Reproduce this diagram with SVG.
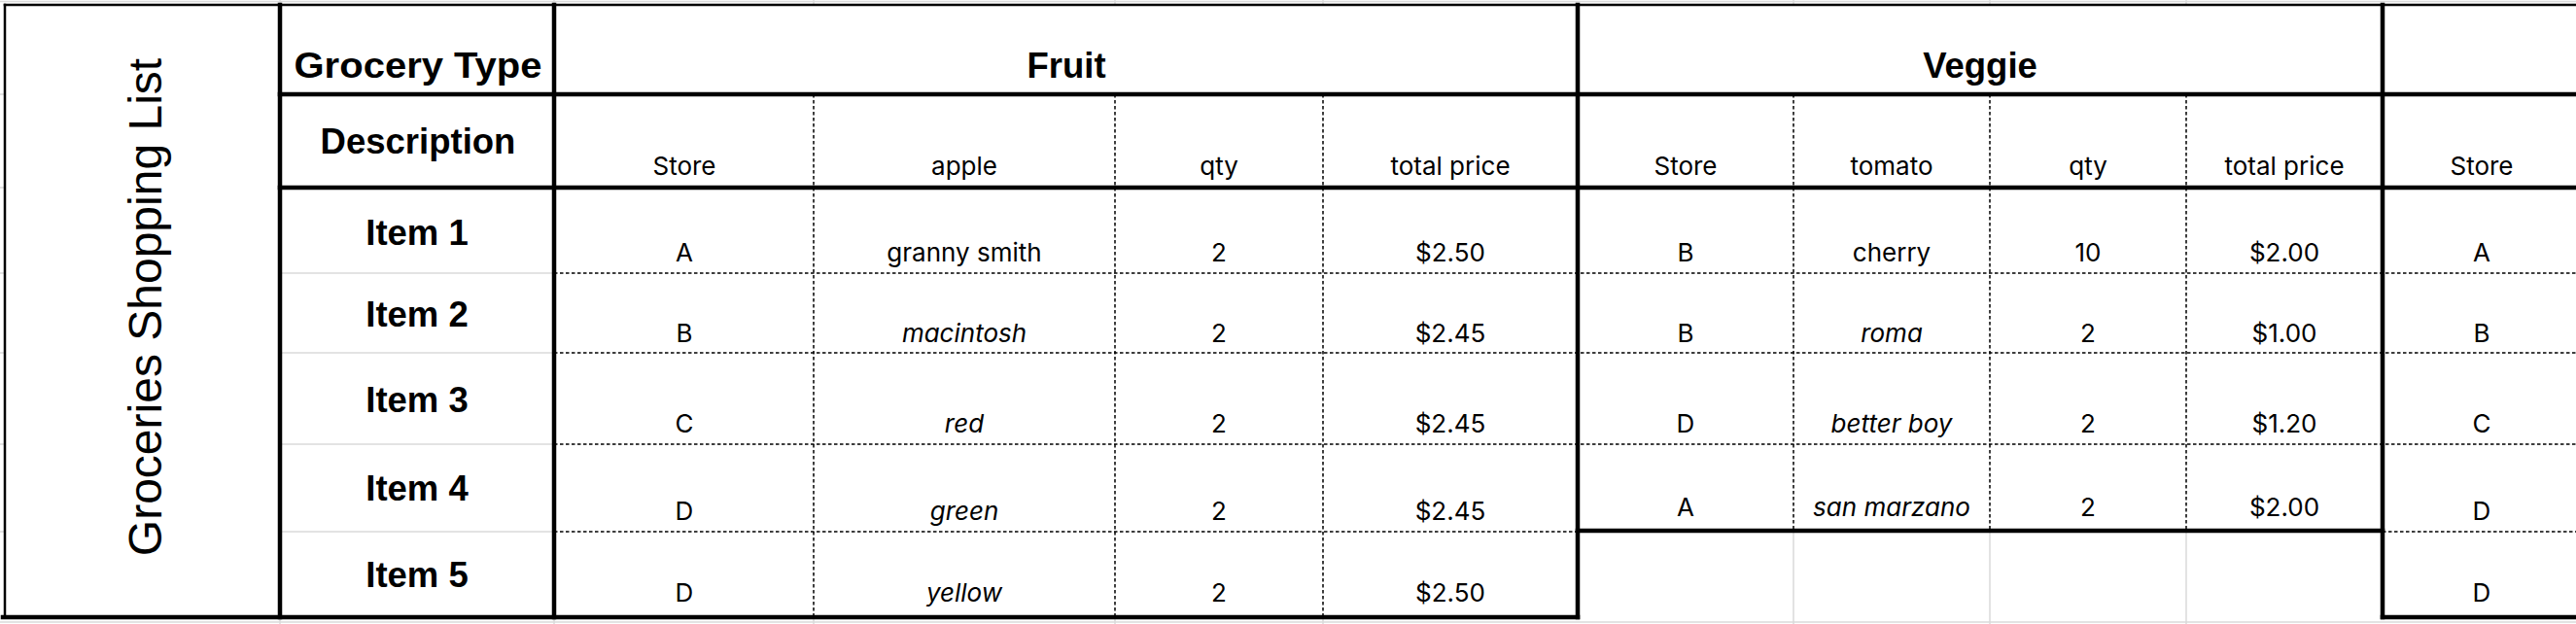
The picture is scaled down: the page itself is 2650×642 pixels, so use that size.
<svg xmlns="http://www.w3.org/2000/svg" width="2650" height="642" viewBox="0 0 2650 642">
<style>
.grid{stroke:#dadada;stroke-width:1.5;fill:none}
.thick{stroke:#000;stroke-width:4.5;fill:none;stroke-linecap:square}
.thin{stroke:#000;stroke-width:2.5;fill:none;stroke-linecap:square}
.dash{stroke:#000;stroke-width:1.5;stroke-dasharray:3.5 2.5;fill:none}
.hd{font-family:"Liberation Sans",Arial,sans-serif;font-weight:bold;font-size:36.5px;fill:#000;text-anchor:middle}
.title{font-family:"Liberation Sans",Arial,sans-serif;font-size:48px;fill:#000;text-anchor:middle}
.d{font-family:Inter,"Noto Sans",sans-serif;font-size:26px;fill:#000;text-anchor:middle}
.i{font-style:italic}
</style>
<rect x="0" y="0" width="2650" height="642" fill="#fff"/>
<g id="gridlines">
<line class="grid" x1="0" y1="1.5" x2="2650" y2="1.5"/>
<line class="grid" x1="0" y1="640" x2="2650" y2="640"/>
<line class="grid" x1="288" y1="0" x2="288" y2="5"/>
<line class="grid" x1="570" y1="0" x2="570" y2="5"/>
<line class="grid" x1="837" y1="0" x2="837" y2="5"/>
<line class="grid" x1="1147" y1="0" x2="1147" y2="5"/>
<line class="grid" x1="1361" y1="0" x2="1361" y2="5"/>
<line class="grid" x1="1845" y1="0" x2="1845" y2="5"/>
<line class="grid" x1="2047" y1="0" x2="2047" y2="5"/>
<line class="grid" x1="2249" y1="0" x2="2249" y2="5"/>
<line class="grid" x1="288" y1="635" x2="288" y2="642"/>
<line class="grid" x1="570" y1="635" x2="570" y2="642"/>
<line class="grid" x1="837" y1="635" x2="837" y2="642"/>
<line class="grid" x1="1147" y1="635" x2="1147" y2="642"/>
<line class="grid" x1="1361" y1="635" x2="1361" y2="642"/>
<line class="grid" x1="1845" y1="548" x2="1845" y2="642"/>
<line class="grid" x1="2047" y1="548" x2="2047" y2="642"/>
<line class="grid" x1="2249" y1="548" x2="2249" y2="642"/>
<line class="grid" x1="0" y1="97" x2="4" y2="97"/>
<line class="grid" x1="0" y1="193" x2="4" y2="193"/>
<line class="grid" x1="0" y1="281" x2="4" y2="281"/>
<line class="grid" x1="0" y1="363" x2="4" y2="363"/>
<line class="grid" x1="0" y1="457" x2="4" y2="457"/>
<line class="grid" x1="0" y1="547" x2="4" y2="547"/>
<line class="grid" x1="288" y1="281" x2="570" y2="281"/>
<line class="grid" x1="288" y1="363" x2="570" y2="363"/>
<line class="grid" x1="288" y1="457" x2="570" y2="457"/>
<line class="grid" x1="288" y1="547" x2="570" y2="547"/>
</g>
<g id="connectors">
<line class="dash" x1="837" y1="97" x2="837" y2="635"/>
<line class="dash" x1="1147" y1="97" x2="1147" y2="635"/>
<line class="dash" x1="1361" y1="97" x2="1361" y2="635"/>
<line class="dash" x1="1845" y1="97" x2="1845" y2="546"/>
<line class="dash" x1="2047" y1="97" x2="2047" y2="546"/>
<line class="dash" x1="2249" y1="97" x2="2249" y2="546"/>
<line class="dash" x1="570" y1="281" x2="2650" y2="281"/>
<line class="dash" x1="570" y1="363" x2="2650" y2="363"/>
<line class="dash" x1="570" y1="457" x2="2650" y2="457"/>
<line class="dash" x1="570" y1="547" x2="1623" y2="547"/>
<line class="dash" x1="2451" y1="547" x2="2650" y2="547"/>
<line class="thin" x1="5" y1="5" x2="2650" y2="5"/>
<line class="thin" x1="5" y1="5" x2="5" y2="635"/>
<line class="thick" x1="288" y1="5" x2="288" y2="635"/>
<line class="thick" x1="570" y1="5" x2="570" y2="635"/>
<line class="thick" x1="1623" y1="5" x2="1623" y2="635"/>
<line class="thick" x1="2451" y1="5" x2="2451" y2="635"/>
<line class="thick" x1="288" y1="97" x2="2650" y2="97"/>
<line class="thick" x1="288" y1="193" x2="2650" y2="193"/>
<line class="thick" x1="3" y1="635" x2="1623" y2="635"/>
<line class="thick" x1="2451" y1="635" x2="2650" y2="635"/>
<line class="thick" x1="1623" y1="546" x2="2451" y2="546"/>
</g>
<g id="title">
<text class="title" transform="translate(166,316) rotate(-90)">Groceries Shopping List</text>
</g>
<g id="row-labels">
<text class="hd" x="430" y="80" textLength="255" lengthAdjust="spacingAndGlyphs">Grocery Type</text>
<text class="hd" x="430" y="158">Description</text>
<text class="hd" x="429" y="252">Item 1</text>
<text class="hd" x="429" y="336">Item 2</text>
<text class="hd" x="429" y="424">Item 3</text>
<text class="hd" x="429" y="515">Item 4</text>
<text class="hd" x="429" y="604">Item 5</text>
</g>
<g id="fruit">
<text class="hd" x="1097" y="80">Fruit</text>
<text class="d" x="704" y="180">Store</text>
<text class="d" x="992" y="180">apple</text>
<text class="d" x="1254" y="180">qty</text>
<text class="d" x="1492" y="180">total price</text>
<text class="d" x="704" y="269">A</text>
<text class="d" x="992" y="269">granny smith</text>
<text class="d" x="1254" y="269">2</text>
<text class="d" x="1492" y="269">$2.50</text>
<text class="d" x="704" y="352">B</text>
<text class="d i" x="992" y="352">macintosh</text>
<text class="d" x="1254" y="352">2</text>
<text class="d" x="1492" y="352">$2.45</text>
<text class="d" x="704" y="445">C</text>
<text class="d i" x="992" y="445">red</text>
<text class="d" x="1254" y="445">2</text>
<text class="d" x="1492" y="445">$2.45</text>
<text class="d" x="704" y="535">D</text>
<text class="d i" x="992" y="535">green</text>
<text class="d" x="1254" y="535">2</text>
<text class="d" x="1492" y="535">$2.45</text>
<text class="d" x="704" y="619">D</text>
<text class="d i" x="992" y="619">yellow</text>
<text class="d" x="1254" y="619">2</text>
<text class="d" x="1492" y="619">$2.50</text>
</g>
<g id="veggie">
<text class="hd" x="2037" y="80">Veggie</text>
<text class="d" x="1734" y="180">Store</text>
<text class="d" x="1946" y="180">tomato</text>
<text class="d" x="2148" y="180">qty</text>
<text class="d" x="2350" y="180">total price</text>
<text class="d" x="1734" y="269">B</text>
<text class="d" x="1946" y="269">cherry</text>
<text class="d" x="2148" y="269">10</text>
<text class="d" x="2350" y="269">$2.00</text>
<text class="d" x="1734" y="352">B</text>
<text class="d i" x="1946" y="352">roma</text>
<text class="d" x="2148" y="352">2</text>
<text class="d" x="2350" y="352">$1.00</text>
<text class="d" x="1734" y="445">D</text>
<text class="d i" x="1946" y="445">better boy</text>
<text class="d" x="2148" y="445">2</text>
<text class="d" x="2350" y="445">$1.20</text>
<text class="d" x="1734" y="531">A</text>
<text class="d i" x="1946" y="531">san marzano</text>
<text class="d" x="2148" y="531">2</text>
<text class="d" x="2350" y="531">$2.00</text>
</g>
<g id="third-group">
<text class="d" x="2553" y="180">Store</text>
<text class="d" x="2553" y="269">A</text>
<text class="d" x="2553" y="352">B</text>
<text class="d" x="2553" y="445">C</text>
<text class="d" x="2553" y="535">D</text>
<text class="d" x="2553" y="619">D</text>
</g>
</svg>
